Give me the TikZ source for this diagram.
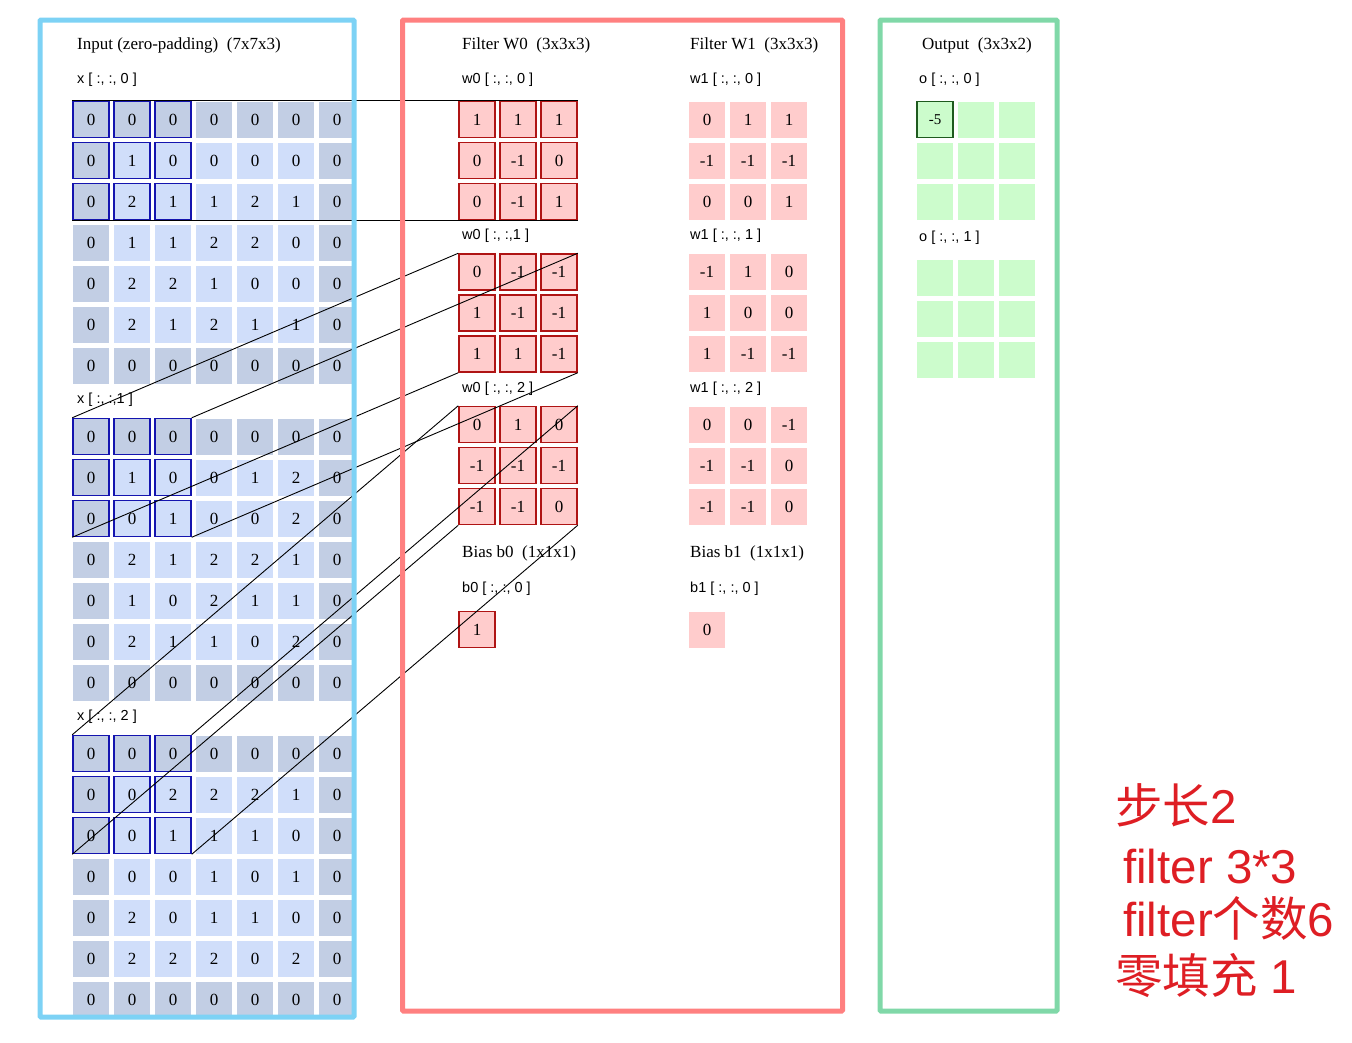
\documentclass[tikz,border=0pt]{standalone}
\usepackage{fontspec}
\setmainfont{Liberation Serif}
\newfontfamily\labelfont{Liberation Sans}
\newfontfamily\cjk{Noto Sans CJK SC}

\definecolor{padblue}{RGB}{194,206,228}
\definecolor{inblue}{RGB}{208,222,250}
\definecolor{selblue}{RGB}{20,20,175}
\definecolor{frameblue}{RGB}{125,210,245}
\definecolor{wfill}{RGB}{255,204,204}
\definecolor{selred}{RGB}{175,20,20}
\definecolor{framered}{RGB}{255,128,128}
\definecolor{ofill}{RGB}{204,252,204}
\definecolor{selgreen}{RGB}{30,90,30}
\definecolor{framegreen}{RGB}{128,216,168}
\definecolor{notered}{RGB}{222,30,36}

\tikzset{
	cell/.style={minimum size=36pt, inner sep=0pt, line width=1.5pt, font=\fontsize{17}{20}\selectfont},
	wcell/.style={cell, fill=wfill},
	ocell/.style={cell, fill=ofill},
	headtext/.style={anchor=west, inner sep=0pt, font=\fontsize{17}{20}\selectfont},
	chlabel/.style={anchor=west, inner sep=0pt, font=\labelfont\fontsize{14.5}{17}\selectfont},
	boxframe/.style={line width=5pt, rounded corners=1pt},
	link/.style={line width=0.9pt},
	notetext/.style={anchor=base west, inner sep=0pt, text=notered, font=\labelfont\fontsize{47.5}{52}\selectfont}
}

\begin{document}
\begin{tikzpicture}[x=1pt, y=-1pt]
	\useasboundingbox (0,0) rectangle (1352,1042);

	% Eingabe x (7x7x3)
	\foreach \row [count=\i from 0] in {
		{0,0,0,0,0,0,0},{0,1,0,0,0,0,0},{0,2,1,1,2,1,0},{0,1,1,2,2,0,0},
		{0,2,2,1,0,0,0},{0,2,1,2,1,1,0},{0,0,0,0,0,0,0},
		{0,0,0,0,0,0,0},{0,1,0,0,1,2,0},{0,0,1,0,0,2,0},{0,2,1,2,2,1,0},
		{0,1,0,2,1,1,0},{0,2,1,1,0,2,0},{0,0,0,0,0,0,0},
		{0,0,0,0,0,0,0},{0,0,2,2,2,1,0},{0,0,1,1,1,0,0},{0,0,0,1,0,1,0},
		{0,2,0,1,1,0,0},{0,2,2,2,0,2,0},{0,0,0,0,0,0,0}}
		\foreach \v [count=\c from 0] in \row {
			\pgfmathtruncatemacro{\k}{floor(\i/7)}
			\pgfmathtruncatemacro{\r}{mod(\i,7)}
			\pgfmathtruncatemacro{\pad}{(\r==0)||(\r==6)||(\c==0)||(\c==6)}
			\pgfmathtruncatemacro{\sel}{(\r<3)&&(\c<3)}
			\ifnum\pad=1 \def\cellfill{padblue}\else\def\cellfill{inblue}\fi
			\ifnum\sel=1 \def\celldraw{selblue}\else\def\celldraw{none}\fi
			\node[cell, fill=\cellfill, draw=\celldraw] (x-\k-\r-\c) at (91+41*\c, 119.5+41*\r+317*\k) {\v};
		}
	\node[headtext] (intitle) at (77, 45) {Input (zero-padding)\ \ (7x7x3)};
	\node[chlabel] (xlab0) at (77, 80) {x [ :, :, 0 ]};
	\node[chlabel] (xlab1) at (77, 400) {x [ :, :,1 ]};
	\node[chlabel] (xlab2) at (77, 717) {x [ :, :, 2 ]};

	% Filter W0
	\foreach \row [count=\i from 0] in {
		{1,1,1},{0,-1,0},{0,-1,1},{0,-1,-1},{1,-1,-1},{1,1,-1},{0,1,0},{-1,-1,-1},{-1,-1,0}}
		\foreach \v [count=\c from 0] in \row {
			\pgfmathtruncatemacro{\k}{floor(\i/3)}
			\pgfmathtruncatemacro{\r}{mod(\i,3)}
			\node[wcell, draw=selred] (w0-\k-\r-\c) at (477+41*\c, 119.5+41*\r+152.5*\k) {\v};
		}
	\node[headtext] (w0title) at (462, 45) {Filter W0\ \ (3x3x3)};
	\node[chlabel] (w0lab0) at (462, 80) {w0 [ :, :, 0 ]};
	\node[chlabel] (w0lab1) at (462, 236) {w0 [ :, :,1 ]};
	\node[chlabel] (w0lab2) at (462, 389) {w0 [ :, :, 2 ]};

	% Filter W1
	\foreach \row [count=\i from 0] in {
		{0,1,1},{-1,-1,-1},{0,0,1},{-1,1,0},{1,0,0},{1,-1,-1},{0,0,-1},{-1,-1,0},{-1,-1,0}}
		\foreach \v [count=\c from 0] in \row {
			\pgfmathtruncatemacro{\k}{floor(\i/3)}
			\pgfmathtruncatemacro{\r}{mod(\i,3)}
			\node[wcell] (w1-\k-\r-\c) at (707+41*\c, 119.5+41*\r+152.5*\k) {\v};
		}
	\node[headtext] (w1title) at (690, 45) {Filter W1\ \ (3x3x3)};
	\node[chlabel] (w1lab0) at (690, 80) {w1 [ :, :, 0 ]};
	\node[chlabel] (w1lab1) at (690, 236) {w1 [ :, :, 1 ]};
	\node[chlabel] (w1lab2) at (690, 389) {w1 [ :, :, 2 ]};

	% Bias
	\node[headtext] (b0title) at (462, 553) {Bias b0\ \ (1x1x1)};
	\node[chlabel] (b0lab) at (462, 589) {b0 [ :, :, 0 ]};
	\node[wcell, draw=selred] (b0) at (477, 629.5) {1};
	\node[headtext] (b1title) at (690, 553) {Bias b1\ \ (1x1x1)};
	\node[chlabel] (b1lab) at (690, 589) {b1 [ :, :, 0 ]};
	\node[wcell] (b1) at (707, 629.5) {0};

	% Ausgabe (3x3x2)
	\foreach \k in {0,1}
		\foreach \r in {0,1,2}
			\foreach \c in {0,1,2} {
				\pgfmathtruncatemacro{\first}{(\k==0)&&(\r==0)&&(\c==0)}
				\ifnum\first=1 \def\celldraw{selgreen}\def\cellval{-5}\else\def\celldraw{none}\def\cellval{}\fi
				\node[ocell, draw=\celldraw, font=\fontsize{15}{18}\selectfont] (o-\k-\r-\c) at (935+41*\c, 119.5+41*\r+158.5*\k) {\cellval};
			}
	\node[headtext] (otitle) at (922, 45) {Output\ \ (3x3x2)};
	\node[chlabel] (olab0) at (919, 80) {o [ :, :, 0 ]};
	\node[chlabel] (olab1) at (919, 238) {o [ :, :, 1 ]};

	% Verbindungslinien Eingabe -> Filter
	\foreach \k in {0,1,2} {
		\draw[link] (x-\k-0-0.north west) -- (w0-\k-0-0.north west);
		\draw[link] (x-\k-0-2.north east) -- (w0-\k-0-2.north east);
		\draw[link] (x-\k-2-0.south west) -- (w0-\k-2-0.south west);
		\draw[link] (x-\k-2-2.south east) -- (w0-\k-2-2.south east);
	}

	% Rahmen
	\draw[boxframe, frameblue] (40,20) rectangle (354,1017);
	\draw[boxframe, framered] (402.5,20) rectangle (842.5,1011);
	\draw[boxframe, framegreen] (880,20) rectangle (1057,1011);

	% Hinweise
	\node[notetext] (stride) at (1115, 823) {{\cjk 步长}2};
	\node[notetext] (fsize) at (1123, 883) {filter 3*3};
	\node[notetext] (fcount) at (1123, 936) {filter{\cjk 个数}6};
	\node[notetext] (padding) at (1115, 993) {{\cjk 零填充} 1};
\end{tikzpicture}
\end{document}
